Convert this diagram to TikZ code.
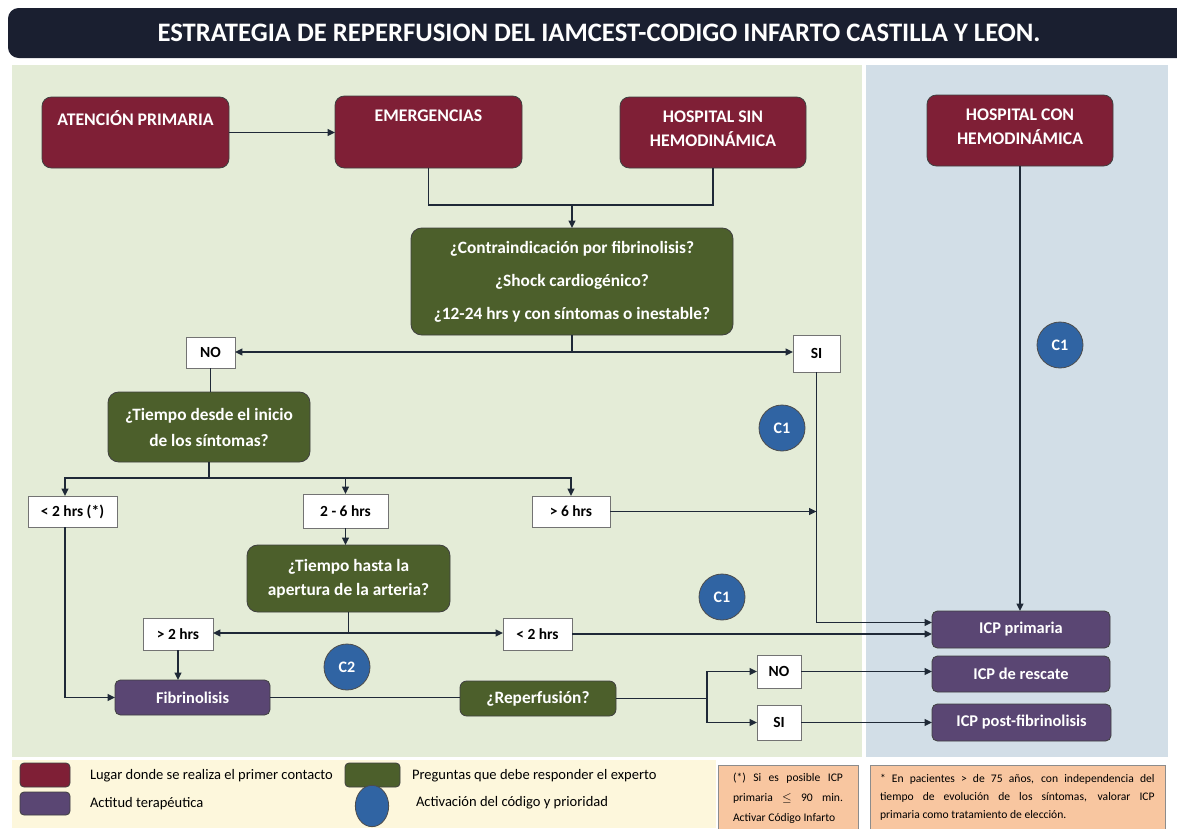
\documentclass[tikz,border=0pt]{standalone}
\usepackage{fontspec}
\setmainfont{Carlito}
\usetikzlibrary{arrows.meta,calc,shapes.geometric}
\definecolor{ctitle}{HTML}{1A1F30}
\definecolor{cgreenbg}{HTML}{E4ECD7}
\definecolor{cbluebg}{HTML}{D2DEE7}
\definecolor{cred}{HTML}{7F1F36}
\definecolor{colive}{HTML}{4C5F2B}
\definecolor{cpurple}{HTML}{5A4673}
\definecolor{ccirc}{HTML}{3064A3}
\definecolor{cline}{HTML}{1F2937}
\definecolor{ccream}{HTML}{FDF7DC}
\definecolor{cpeach}{HTML}{F8C6A0}
\newcommand\mkbox[7]{\node[#1, minimum width={(#5-#3)*0.75pt}, minimum height={(#6-#4)*0.75pt}] (#2) at ({(#3+#5)/2},{(#4+#6)/2}) {#7};}
\begin{document}
\begin{tikzpicture}[x=0.75pt,y=-0.75pt,
  base/.style={inner sep=0pt, outer sep=0pt},
  redbox/.style={base, draw=black!75, line width=0.6pt, fill=cred, rounded corners=7pt},
  redtxt/.style={base, text=white, align=center, font=\fontsize{13.3}{18}\selectfont\bfseries},
  qbox/.style={base, draw=black!75, line width=0.6pt, fill=colive, rounded corners=8pt, text=white, align=center},
  pbox/.style={base, draw=black!75, line width=0.6pt, fill=cpurple, rounded corners=4pt, text=white, font=\fontsize{12.3}{14}\selectfont\bfseries},
  wbox/.style={base, draw=black!55, line width=0.6pt, fill=white, font=\fontsize{11.6}{13}\selectfont\bfseries},
  circ/.style={circle, draw=black!70, line width=0.6pt, fill=ccirc, minimum size=34.5pt, inner sep=0pt, text=white, font=\fontsize{12}{13}\selectfont\bfseries},
  ln/.style={line width=1.4pt, draw=cline},
  arr/.style={ln, -{Triangle[length=5.5pt,width=5pt]}},
  legtxt/.style={base, anchor=west, font=\fontsize{10.9}{12}\selectfont},
  notetxt/.style={base, anchor=north west, align=justify, font=\fontsize{8.7}{15}\selectfont}
]
\useasboundingbox (0,0) rectangle (1177,828);
\clip (0,0) rectangle (1177,828);
\fill[white] (0,0) rectangle (1177,828);
% title
\mkbox{base, fill=ctitle, rounded corners=8pt, text=white, font=\fontsize{20}{24}\selectfont\bfseries}{title}{8}{8}{1190}{58}{ESTRATEGIA DE REPERFUSION DEL IAMCEST-CODIGO INFARTO CASTILLA Y LEON.}
% panels
\fill[cgreenbg] (12,65) rectangle (862,757);
\fill[cbluebg] (866,65) rectangle (1168,757);
\fill[ccream] (12,760) rectangle (716,828);
% top boxes
\mkbox{redbox}{atp}{42}{97}{229}{168}{}
\node[redtxt] (atpT) at (135.5,118) {ATENCIÓN PRIMARIA};
\mkbox{redbox}{emg}{335}{96}{522}{168}{}
\node[redtxt] (emgT) at (428.5,116) {EMERGENCIAS};
\mkbox{redbox}{hsin}{620}{97}{806}{168}{}
\node[redtxt] (hsinT) at (713,129) {HOSPITAL SIN\\HEMODINÁMICA};
\mkbox{redbox}{hcon}{927}{95}{1113}{166}{}
\node[redtxt] (hconT) at (1020,127) {HOSPITAL CON\\HEMODINÁMICA};
% questions
\mkbox{qbox, font=\fontsize{13}{24.75}\selectfont\bfseries}{q1}{411}{228}{733}{335}{¿Contraindicación por fibrinolisis?\\¿Shock cardiogénico?\\¿12-24 hrs y con síntomas o inestable?}
\mkbox{qbox, font=\fontsize{13}{19.5}\selectfont\bfseries}{t1}{108}{392}{310}{462}{¿Tiempo desde el inicio\\de los síntomas?}
\mkbox{qbox, font=\fontsize{13}{18}\selectfont\bfseries}{t2}{247}{545}{450}{612}{¿Tiempo hasta la\\apertura de la arteria?}
\mkbox{qbox, rounded corners=5pt, font=\fontsize{13}{14}\selectfont\bfseries}{rep}{460}{681}{616}{716}{¿Reperfusión?}
% white boxes
\mkbox{wbox}{no1}{186}{337}{235}{368}{NO}
\mkbox{wbox}{si1}{793}{335}{840}{372}{SI}
\mkbox{wbox}{lt2}{28}{496}{117}{527}{< 2 hrs (*)}
\mkbox{wbox}{r26}{303}{494}{388}{528}{2 - 6 hrs}
\mkbox{wbox}{gt6}{532}{496}{610}{527}{> 6 hrs}
\mkbox{wbox}{gt2}{143}{618}{213}{650}{> 2 hrs}
\mkbox{wbox}{lt2b}{503}{618}{572}{650}{< 2 hrs}
\mkbox{wbox}{no2}{757}{655}{801}{688}{NO}
\mkbox{wbox}{si2}{757}{705}{801}{740}{SI}
% purple
\mkbox{pbox}{fib}{115}{680}{270}{715}{Fibrinolisis}
\mkbox{pbox}{icp1}{932}{611}{1110}{648}{ICP primaria}
\mkbox{pbox}{icp2}{932}{656}{1110}{692}{ICP de rescate}
\mkbox{pbox}{icp3}{932}{704}{1111}{741}{ICP post-fibrinolisis}
% circles
\node[circ] (c1a) at (782,428) {C1};
\node[circ] (c1b) at (1060,345) {C1};
\node[circ] (c1c) at (722,597) {C1};
\node[circ] (c2) at (347,667) {C2};
% coordinates
\coordinate (j1) at (572,205);
\coordinate (j2) at (572,352);
\coordinate (j3) at (209,478);
\coordinate (j4) at (348.5,633);
\coordinate (xl) at (65,0);
\coordinate (j5) at (707,0);
% connectors
\draw[arr] (atp.east) -- (atp.east -| emg.west);
\draw[ln] (emg.south) |- (j1) -| (hsin.south);
\draw[arr] (j1) -- (q1.north);
\draw[ln] (q1.south) -- (j2);
\draw[arr] (j2) -- (j2 -| no1.east);
\draw[arr] (j2) -- (j2 -| si1.west);
\draw[ln] (no1.south) -- (no1.south |- t1.north);
\draw[ln] (t1.south) -- (j3);
\draw[arr] (j3) -| (xl |- lt2.north);
\draw[arr] (j3) -| (r26.north);
\draw[arr] (j3) -| (gt6.north);
\draw[arr] (gt6.east) -- (gt6.east -| si1.south);
\draw[arr] (si1.south) |- ($(icp1.west)+(0,-7)$);
\draw[arr] (hcon.south) -- (hcon.south |- icp1.north);
\draw[arr] (r26.south) -- (r26.south |- t2.north);
\draw[ln] (t2.south) -- (j4);
\draw[arr] (j4) -- (j4 -| gt2.east);
\draw[arr] (j4) -- (j4 -| lt2b.west);
\draw[arr] (lt2b.east) -- (lt2b.east -| icp1.west);
\draw[arr] (gt2.south) -- (gt2.south |- fib.north);
\draw[arr] (xl |- lt2.south) |- (fib.west);
\draw[ln] (fib.east) -- (fib.east -| rep.west);
\draw[ln] (rep.east) -- (rep.east -| j5);
\draw[arr] (rep.east -| j5) |- (no2.west);
\draw[arr] (rep.east -| j5) |- (si2.west);
\draw[arr] (no2.east) -- (no2.east -| icp2.west);
\draw[arr] (si2.east) -- (si2.east -| icp3.west);
% legend
\mkbox{redbox, rounded corners=3pt}{lgred}{20}{763}{70}{787}{}
\node[legtxt] (lgredT) at (90,776) {Lugar donde se realiza el primer contacto};
\mkbox{pbox, rounded corners=3pt}{lgpur}{20}{792}{70}{815}{}
\node[legtxt] (lgpurT) at (90,804) {Actitud terapéutica};
\mkbox{qbox, rounded corners=3pt}{lggrn}{345}{763}{400}{787}{}
\node[legtxt] (lggrnT) at (412,776) {Preguntas que debe responder el experto};
\node[base, ellipse, draw=black!70, line width=0.6pt, fill=ccirc, minimum width=25pt, minimum height=31pt] (lgcirc) at (372,806) {};
\node[legtxt] (lgcircT) at (416,803) {Activación del código y prioridad};
% notes
\mkbox{base, draw=black!45, line width=0.6pt, fill=cpeach}{nb1}{718}{765}{858}{840}{}
\node[notetxt, text width=82.5pt] (nb1T) at (733,773) {(*) Si es posible ICP\linebreak primaria $\leq$ 90 min.\linebreak Activar Código Infarto};
\mkbox{base, draw=black!45, line width=0.6pt, fill=cpeach}{nb2}{870}{765}{1165}{840}{}
\node[notetxt, text width=206pt, font=\fontsize{8.7}{13.5}\selectfont] (nb2T) at (880,774) {* En pacientes > de 75 años, con independencia del\linebreak tiempo de evolución de los síntomas, valorar ICP\linebreak primaria como tratamiento de elección.};
\end{tikzpicture}
\end{document}
